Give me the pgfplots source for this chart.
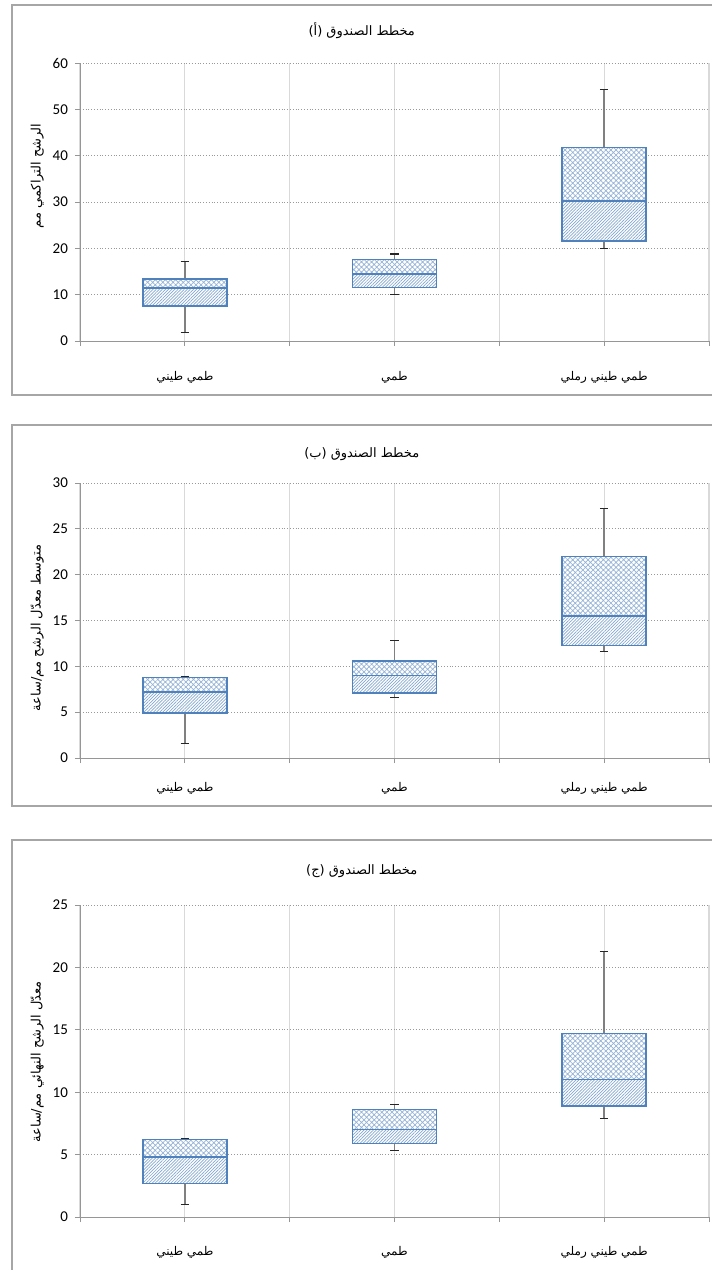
\documentclass[border=0pt]{standalone}
\usepackage{fontspec}
\setmainfont{Carlito}
\newfontfamily\arabicfont[Script=Arabic]{DejaVu Sans}
\TeXXeTstate=1
\usepackage{pgfplots}
\pgfplotsset{compat=1.18}
\usetikzlibrary{patterns.meta}
\definecolor{boxblue}{RGB}{79,129,189}
\definecolor{gridgray}{RGB}{217,217,217}
\definecolor{axgray}{RGB}{150,150,150}

\pgfplotsset{
  panel/.style={
    scale only axis, width=314.5pt,
    xmin=0, xmax=6, ymin=0,
    xtick={0,1,2,3,4,5,6},
    xticklabels={,{\arabicfont\beginR طمي طيني\endR},,{\arabicfont\beginR طمي\endR},,{\arabicfont\beginR طمي طيني رملي\endR},},
    xticklabel style={font=\fontsize{6}{7}\selectfont, anchor=center},
    yticklabel style={font=\fontsize{7.5}{8}\selectfont},
    /pgf/number format/assume math mode=true,
    axis x line*=bottom, axis y line*=left,
    axis line style={draw=axgray, -},
    tick align=outside, major tick length=2.5pt,
    tick style={draw=axgray, line width=0.4pt},
    xmajorgrids, ymajorgrids,
    x grid style={draw=gridgray, line width=0.6pt},
    y grid style={draw=gray!80, densely dotted, line width=0.4pt},
    title style={font=\fontsize{6.5}{7}\selectfont, anchor=center, at={(0.448,1)}},
    ylabel style={font=\fontsize{6.5}{7}\selectfont, anchor=center},
    no markers, unbounded coords=jump,
  },
  whisk/.style={draw=gray, line width=0.75pt, forget plot},
  caps/.style={draw=black!85, line width=0.6pt, forget plot},
  lowbox/.style={draw=boxblue, line width=0.75pt, fill=white,
    postaction={pattern={Lines[angle=45,distance=1.1pt,line width=0.35pt]}, pattern color=boxblue!70}},
  upbox/.style={draw=boxblue, line width=0.75pt, fill=white,
    postaction={pattern={Hatch[angle=45,distance=1.8pt,line width=0.35pt]}, pattern color=boxblue!60}},
}

\begin{document}
\begin{tikzpicture}
\useasboundingbox (0,0) rectangle (356pt,-635pt);
\draw[draw=gray!70, line width=0.6pt] (6pt,-2.5pt) rectangle (360pt,-197.5pt);
\draw[draw=gray!70, line width=0.6pt] (6pt,-212.5pt) rectangle (360pt,-403pt);
\draw[draw=gray!70, line width=0.6pt] (6pt,-420pt) rectangle (360pt,-640pt);

% ---------- Panel A ----------
\begin{axis}[panel, at={(40pt,-170.5pt)}, anchor=south west,
  height=139pt, ymax=60, ytick={0,10,...,60},
  xticklabel style={yshift=-15.5pt},
  title={\arabicfont\beginR مخطط الصندوق (أ)\endR},
  title style={yshift=10pt},
  ylabel={\arabicfont\beginR الرشح التراكمي مم\endR},
  ylabel style={at={(axis description cs:-0.068,0.594)}},
]
% whiskers: min-q1 and q3-max
\addplot[whisk] coordinates {(1,1.9) (1,7.6) (1,nan) (1,13.4) (1,17.2) (3,nan) (3,10.0) (3,11.5) (3,nan) (3,17.6) (3,18.8) (5,nan) (5,20.0) (5,21.6) (5,nan) (5,41.8) (5,54.3)};
\addplot[caps] coordinates {(0.96,1.9) (1.04,1.9) (1,nan) (0.96,17.2) (1.04,17.2) (3,nan) (2.96,10.0) (3.04,10.0) (3,nan) (2.96,18.8) (3.04,18.8) (5,nan) (4.96,20.0) (5.04,20.0) (5,nan) (4.96,54.3) (5.04,54.3)};
% boxes: q1-median, median-q3
\addplot[lowbox] coordinates {(0.6,7.6) (1.4,7.6) (1.4,11.4) (0.6,11.4)} -- cycle;
\addplot[upbox] coordinates {(0.6,11.4) (1.4,11.4) (1.4,13.4) (0.6,13.4)} -- cycle;
\addplot[lowbox] coordinates {(2.6,11.5) (3.4,11.5) (3.4,14.5) (2.6,14.5)} -- cycle;
\addplot[upbox] coordinates {(2.6,14.5) (3.4,14.5) (3.4,17.6) (2.6,17.6)} -- cycle;
\addplot[lowbox] coordinates {(4.6,21.6) (5.4,21.6) (5.4,30.2) (4.6,30.2)} -- cycle;
\addplot[upbox] coordinates {(4.6,30.2) (5.4,30.2) (5.4,41.8) (4.6,41.8)} -- cycle;
\end{axis}

% ---------- Panel B ----------
\begin{axis}[panel, at={(40pt,-379pt)}, anchor=south west,
  height=137.5pt, ymax=30, ytick={0,5,...,30},
  xticklabel style={yshift=-12.5pt},
  title={\arabicfont\beginR مخطط الصندوق (ب)\endR},
  title style={yshift=8.5pt},
  ylabel={\arabicfont\beginR متوسط معدّل الرشح مم/ساعة\endR},
  ylabel style={at={(axis description cs:-0.068,0.473)}},
]
\addplot[whisk] coordinates {(1,1.6) (1,4.9) (1,nan) (1,8.8) (1,8.9) (3,nan) (3,6.6) (3,7.1) (3,nan) (3,10.6) (3,12.8) (5,nan) (5,11.6) (5,12.3) (5,nan) (5,22.0) (5,27.2)};
\addplot[caps] coordinates {(0.96,1.6) (1.04,1.6) (1,nan) (0.96,8.9) (1.04,8.9) (3,nan) (2.96,6.6) (3.04,6.6) (3,nan) (2.96,12.8) (3.04,12.8) (5,nan) (4.96,11.6) (5.04,11.6) (5,nan) (4.96,27.2) (5.04,27.2)};
\addplot[lowbox] coordinates {(0.6,4.9) (1.4,4.9) (1.4,7.2) (0.6,7.2)} -- cycle;
\addplot[upbox] coordinates {(0.6,7.2) (1.4,7.2) (1.4,8.8) (0.6,8.8)} -- cycle;
\addplot[lowbox] coordinates {(2.6,7.1) (3.4,7.1) (3.4,9.0) (2.6,9.0)} -- cycle;
\addplot[upbox] coordinates {(2.6,9.0) (3.4,9.0) (3.4,10.6) (2.6,10.6)} -- cycle;
\addplot[lowbox] coordinates {(4.6,12.3) (5.4,12.3) (5.4,15.5) (4.6,15.5)} -- cycle;
\addplot[upbox] coordinates {(4.6,15.5) (5.4,15.5) (5.4,22.0) (4.6,22.0)} -- cycle;
\end{axis}

% ---------- Panel C ----------
\begin{axis}[panel, at={(40pt,-608.5pt)}, anchor=south west,
  height=156pt, ymax=25, ytick={0,5,...,25},
  xticklabel style={yshift=-15pt},
  title={\arabicfont\beginR مخطط الصندوق (ج)\endR},
  title style={yshift=11pt},
  ylabel={\arabicfont\beginR معدّل الرشح النهائي مم/ساعة\endR},
  ylabel style={at={(axis description cs:-0.068,0.497)}},
]
\addplot[whisk] coordinates {(1,1.0) (1,2.7) (1,nan) (1,6.2) (1,6.3) (3,nan) (3,5.3) (3,5.9) (3,nan) (3,8.6) (3,9.0) (5,nan) (5,7.9) (5,8.9) (5,nan) (5,14.7) (5,21.3)};
\addplot[caps] coordinates {(0.96,1.0) (1.04,1.0) (1,nan) (0.96,6.3) (1.04,6.3) (3,nan) (2.96,5.3) (3.04,5.3) (3,nan) (2.96,9.0) (3.04,9.0) (5,nan) (4.96,7.9) (5.04,7.9) (5,nan) (4.96,21.3) (5.04,21.3)};
\addplot[lowbox] coordinates {(0.6,2.7) (1.4,2.7) (1.4,4.8) (0.6,4.8)} -- cycle;
\addplot[upbox] coordinates {(0.6,4.8) (1.4,4.8) (1.4,6.2) (0.6,6.2)} -- cycle;
\addplot[lowbox] coordinates {(2.6,5.9) (3.4,5.9) (3.4,7.0) (2.6,7.0)} -- cycle;
\addplot[upbox] coordinates {(2.6,7.0) (3.4,7.0) (3.4,8.6) (2.6,8.6)} -- cycle;
\addplot[lowbox] coordinates {(4.6,8.9) (5.4,8.9) (5.4,11.0) (4.6,11.0)} -- cycle;
\addplot[upbox] coordinates {(4.6,11.0) (5.4,11.0) (5.4,14.7) (4.6,14.7)} -- cycle;
\end{axis}
\end{tikzpicture}
\end{document}
